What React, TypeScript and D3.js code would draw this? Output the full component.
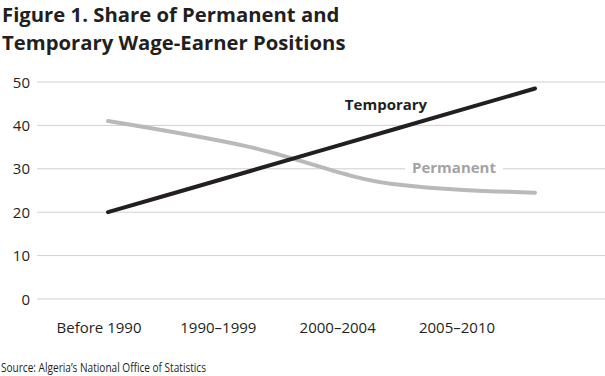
import React from "react";
import * as d3 from "d3";

const categories = ["Before 1990", "1990–1999", "2000–2004", "2005–2010"];
const temporary = [20, 29.5, 39, 48.5];
const permanent = [41, 35, 26.5, 24.5];
const yTicks = [0, 10, 20, 30, 40, 50];

const W = 605, H = 376;
const FONT = "'Open Sans', 'Noto Sans', sans-serif";

export default function App() {
  const y = d3.scaleLinear().domain([0, 50]).range([299, 82]);
  const xPts = d3.scalePoint<string>().domain(categories).range([108, 535]);
  const xLab = d3.scalePoint<string>().domain(categories).range([99, 457]);
  const line = d3
    .line<number>()
    .x((_, i) => xPts(categories[i]) as number)
    .y((d) => y(d))
    .curve(d3.curveMonotoneX);

  return (
    <svg
      width={W}
      height={H}
      style={{ position: "absolute", left: 0, top: 0, background: "#fff" }}
      fontFamily={FONT}
    >
      <text x={2} y={22} fontSize={20.3} fontWeight={700} fill="#231f20">
        Figure 1. Share of Permanent and
      </text>
      <text x={2} y={50} fontSize={20.3} fontWeight={700} fill="#231f20">
        Temporary Wage-Earner Positions
      </text>
      {yTicks.map((t) => (
        <g key={t}>
          <line x1={37} x2={W} y1={y(t)} y2={y(t)} stroke="#cfcfcf" strokeWidth={1} />
          <text x={30} y={y(t) + 5.5} textAnchor="end" fontSize={15} fill="#231f20">
            {t}
          </text>
        </g>
      ))}
      {categories.map((c) => (
        <text key={c} x={xLab(c)} y={333} textAnchor="middle" fontSize={15} fill="#231f20">
          {c}
        </text>
      ))}
      <path d={line(permanent) || ""} fill="none" stroke="#b9b9b9" strokeWidth={4} strokeLinecap="round" />
      <path d={line(temporary) || ""} fill="none" stroke="#231f20" strokeWidth={4} strokeLinecap="round" />
      <rect x={405} y={158} width={98} height={20} fill="#fff" />
      <text x={454} y={173} textAnchor="middle" fontSize={15} fontWeight={700} fill="#a3a3a3">
        Permanent
      </text>
      <text x={386} y={110} textAnchor="middle" fontSize={15} fontWeight={700} fill="#231f20">
        Temporary
      </text>
      <text
        x={1}
        y={372}
        fontSize={12.5}
        fill="#231f20"
        textLength={205}
        lengthAdjust="spacingAndGlyphs"
      >
        Source: Algeria’s National Office of Statistics
      </text>
    </svg>
  );
}
